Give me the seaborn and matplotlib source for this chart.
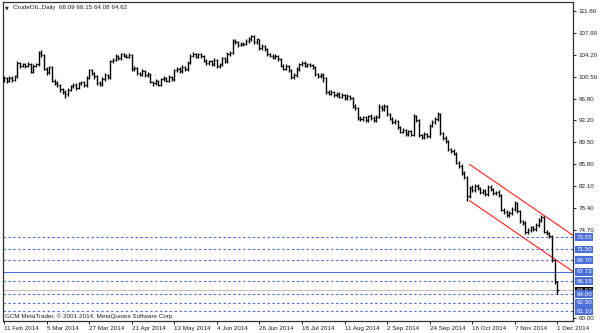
import numpy as np
import pandas as pd
import matplotlib
matplotlib.use("Agg")
import matplotlib.pyplot as plt
import matplotlib.transforms as mtransforms
import seaborn as sns

# ---------------- data ----------------
opens = [
    100.0, 100.3, 99.9, 100.4, 100.0, 100.6, 102.8, 102.4, 102.6, 102.3,
    102.7, 101.4, 102.4, 102.6, 104.6, 104.2, 101.9, 101.3, 102.1, 99.9,
    99.5, 99.1, 98.4, 98.0, 97.6, 98.3, 98.9, 99.2, 98.7, 99.4,
    99.6, 99.1, 100.4, 101.6, 101.2, 100.6, 99.5, 99.3, 100.2, 100.8,
    100.5, 103.1, 103.4, 104.0, 103.7, 104.3, 104.1, 103.9, 104.2, 101.8,
    102.0, 101.2, 100.9, 101.5, 100.8, 101.0, 99.7, 99.4, 99.8, 99.2,
    100.1, 100.3, 99.9, 100.5, 100.2, 101.6, 101.9, 101.5, 102.2, 101.8,
    102.9, 104.1, 104.4, 103.9, 104.3, 104.0, 103.2, 102.8, 103.1, 102.7,
    103.3, 102.3, 102.6, 103.6, 103.2, 104.4, 104.6, 106.6, 106.3, 105.9,
    106.1, 106.0, 106.5, 106.9, 107.3, 106.4, 106.8, 105.4, 105.7, 105.2,
    104.3, 104.1, 103.8, 104.0, 103.5, 102.4, 101.9, 102.3, 101.7, 100.5,
    100.8, 101.8, 102.6, 102.9, 102.4, 102.7, 102.5, 102.1, 101.0, 100.6,
    100.9, 100.3, 97.9, 97.7, 98.0, 97.4, 97.6, 97.2, 97.5, 96.9,
    97.3, 96.9, 95.6, 95.3, 93.6, 93.4, 93.7, 93.3, 93.9, 93.6,
    93.2, 93.8, 95.5, 95.1, 95.6, 94.2, 93.5, 92.9, 93.1, 92.0,
    91.3, 91.6, 90.9, 91.4, 90.8, 93.9, 93.2, 90.7, 90.4, 90.9,
    90.6, 92.3, 92.9, 93.4, 94.3, 91.0, 90.2, 89.7, 88.3, 88.0,
    87.6, 86.1, 85.5, 84.3, 83.6, 80.5, 81.9, 81.5, 82.2, 81.8,
    81.1, 81.4, 80.8, 82.0, 81.6, 80.9, 81.2, 80.6, 78.2, 77.8,
    77.2, 77.6, 78.3, 79.3, 77.9, 76.2, 75.9, 74.4, 74.8, 75.2,
    74.9, 75.6, 76.4, 76.9, 74.5, 74.2, 73.7, 69.7, 66.09,
]
highs = [
    100.6, 100.5, 100.7, 100.6, 100.9, 103.1, 103.0, 102.9, 102.8, 103.0,
    102.9, 102.6, 102.9, 104.9, 105.0, 104.4, 102.2, 102.4, 102.3, 100.1,
    99.8, 99.3, 98.7, 98.3, 98.6, 99.2, 99.5, 99.4, 99.7, 99.9,
    99.9, 100.7, 101.9, 101.8, 101.4, 100.8, 99.8, 100.5, 101.1, 101.0,
    103.4, 103.7, 104.3, 104.2, 104.6, 104.5, 104.4, 104.5, 104.3, 102.4,
    102.2, 101.4, 101.8, 101.6, 101.3, 101.2, 99.9, 100.1, 100.0, 100.4,
    100.6, 100.5, 100.8, 100.7, 101.9, 102.2, 102.1, 102.5, 102.4, 103.2,
    104.4, 104.7, 104.6, 104.6, 104.5, 104.2, 103.5, 103.4, 103.3, 103.6,
    103.5, 102.9, 103.9, 103.8, 104.7, 104.9, 106.9, 106.8, 106.5, 106.4,
    106.4, 106.8, 107.2, 107.6, 107.5, 107.0, 106.9, 106.0, 105.9, 105.4,
    104.5, 104.3, 104.3, 104.2, 103.7, 102.6, 102.6, 102.5, 101.9, 101.1,
    102.1, 102.9, 103.2, 103.1, 102.9, 102.9, 102.7, 102.3, 101.2, 101.2,
    101.1, 100.5, 98.3, 98.3, 98.2, 97.9, 97.9, 97.8, 97.7, 97.6,
    97.5, 97.1, 95.9, 95.5, 93.9, 94.0, 94.0, 94.1, 94.2, 93.9,
    94.1, 95.9, 95.8, 95.9, 95.8, 94.4, 93.7, 93.4, 93.3, 92.2,
    91.9, 91.8, 91.6, 91.6, 94.2, 94.1, 93.4, 90.9, 91.2, 91.1,
    92.6, 93.2, 93.7, 94.6, 94.5, 91.3, 90.5, 89.9, 88.6, 88.3,
    87.8, 86.4, 85.8, 84.6, 83.9, 82.2, 82.4, 82.5, 82.5, 82.0,
    81.7, 81.7, 82.3, 82.3, 81.9, 81.4, 81.5, 80.8, 78.5, 78.1,
    77.9, 78.6, 79.6, 79.5, 78.1, 76.5, 76.2, 75.1, 75.5, 75.5,
    75.9, 76.7, 77.2, 77.1, 74.8, 74.4, 73.9, 69.9, 66.15,
]
lows = [
    99.7, 99.5, 99.6, 99.7, 99.8, 100.4, 102.0, 102.1, 102.0, 102.1,
    101.1, 101.2, 102.1, 102.4, 103.9, 101.6, 100.9, 101.0, 99.6, 99.1,
    98.8, 98.0, 97.6, 97.0, 97.3, 98.1, 98.6, 98.3, 98.4, 99.1,
    98.8, 98.8, 100.1, 100.9, 100.2, 99.2, 98.9, 99.0, 99.9, 100.1,
    100.2, 102.8, 103.1, 103.3, 103.4, 103.8, 103.6, 103.6, 101.5, 101.5,
    100.9, 100.6, 100.6, 100.5, 100.5, 99.4, 99.0, 99.1, 98.9, 99.0,
    99.9, 99.6, 99.6, 99.9, 99.9, 101.3, 101.2, 101.2, 101.5, 101.5,
    102.6, 103.8, 103.6, 103.6, 103.7, 103.0, 102.5, 102.5, 102.4, 102.4,
    102.0, 102.0, 102.3, 102.9, 102.9, 104.1, 104.3, 106.0, 105.6, 105.7,
    105.7, 105.8, 106.2, 106.6, 106.1, 106.1, 105.1, 105.1, 104.9, 104.0,
    103.8, 103.5, 103.5, 103.2, 102.1, 101.6, 101.6, 101.4, 100.2, 100.2,
    100.5, 101.5, 102.3, 102.1, 102.1, 102.2, 101.8, 100.7, 100.3, 100.3,
    99.6, 97.6, 97.4, 97.4, 97.1, 97.1, 96.9, 96.9, 96.6, 96.6,
    96.6, 95.3, 95.0, 93.3, 93.1, 93.1, 93.0, 93.0, 93.3, 92.9,
    93.0, 93.6, 94.8, 94.8, 93.9, 93.2, 92.6, 92.6, 91.7, 91.0,
    91.0, 90.6, 90.6, 90.5, 90.5, 92.9, 90.4, 90.1, 90.1, 90.3,
    90.3, 92.0, 92.6, 93.1, 90.7, 89.9, 89.4, 88.0, 87.7, 87.3,
    85.8, 85.2, 84.0, 83.3, 79.7, 80.2, 81.2, 81.2, 81.5, 80.8,
    80.8, 80.5, 80.5, 81.3, 80.6, 80.6, 80.3, 77.9, 77.5, 76.9,
    76.9, 77.3, 78.0, 77.6, 75.9, 75.6, 74.1, 74.1, 74.5, 74.6,
    74.6, 75.3, 76.1, 74.2, 73.9, 73.4, 69.4, 65.7, 64.08,
]
closes = [
    100.3, 99.9, 100.4, 100.0, 100.6, 102.8, 102.4, 102.6, 102.3, 102.7,
    101.4, 102.4, 102.6, 104.6, 104.2, 101.9, 101.3, 102.1, 99.9, 99.5,
    99.1, 98.4, 98.0, 97.6, 98.3, 98.9, 99.2, 98.7, 99.4, 99.6,
    99.1, 100.4, 101.6, 101.2, 100.6, 99.5, 99.3, 100.2, 100.8, 100.5,
    103.1, 103.4, 104.0, 103.7, 104.3, 104.1, 103.9, 104.2, 101.8, 102.0,
    101.2, 100.9, 101.5, 100.8, 101.0, 99.7, 99.4, 99.8, 99.2, 100.1,
    100.3, 99.9, 100.5, 100.2, 101.6, 101.9, 101.5, 102.2, 101.8, 102.9,
    104.1, 104.4, 103.9, 104.3, 104.0, 103.2, 102.8, 103.1, 102.7, 103.3,
    102.3, 102.6, 103.6, 103.2, 104.4, 104.6, 106.6, 106.3, 105.9, 106.1,
    106.0, 106.5, 106.9, 107.3, 106.4, 106.8, 105.4, 105.7, 105.2, 104.3,
    104.1, 103.8, 104.0, 103.5, 102.4, 101.9, 102.3, 101.7, 100.5, 100.8,
    101.8, 102.6, 102.9, 102.4, 102.7, 102.5, 102.1, 101.0, 100.6, 100.9,
    100.3, 97.9, 97.7, 98.0, 97.4, 97.6, 97.2, 97.5, 96.9, 97.3,
    96.9, 95.6, 95.3, 93.6, 93.4, 93.7, 93.3, 93.9, 93.6, 93.2,
    93.8, 95.5, 95.1, 95.6, 94.2, 93.5, 92.9, 93.1, 92.0, 91.3,
    91.6, 90.9, 91.4, 90.8, 93.9, 93.2, 90.7, 90.4, 90.9, 90.6,
    92.3, 92.9, 93.4, 94.3, 91.0, 90.2, 89.7, 88.3, 88.0, 87.6,
    86.1, 85.5, 84.3, 83.6, 80.5, 81.9, 81.5, 82.2, 81.8, 81.1,
    81.4, 80.8, 82.0, 81.6, 80.9, 81.2, 80.6, 78.2, 77.8, 77.2,
    77.6, 78.3, 79.3, 77.9, 76.2, 75.9, 74.4, 74.8, 75.2, 74.9,
    75.6, 76.4, 76.9, 74.5, 74.2, 73.7, 69.7, 66.15, 64.62,
]
date_labels = ["11 Feb 2014", "5 Mar 2014", "27 Mar 2014", "21 Apr 2014", "13 May 2014",
               "4 Jun 2014", "26 Jun 2014", "18 Jul 2014", "11 Aug 2014", "2 Sep 2014",
               "24 Sep 2014", "16 Oct 2014", "7 Nov 2014", "1 Dec 2014"]
date_label_bars = [0, 16, 32, 48, 64, 80, 96, 112, 128, 144, 160, 176, 192, 208]
price_ticks = [111.60, 107.90, 104.20, 100.50, 96.80, 93.20, 89.50, 85.80,
               82.10, 78.40, 74.70, 60.00]
dashed_levels = [73.55, 71.50, 69.70, 66.15, 64.00, 62.50, 61.10]
solid_level = 67.73
channel_bars = [175, 205]
channel_upper = [85.8, 76.6]
channel_lower = [79.7, 70.5]

# ---------------- figure ----------------
sns.set_style("white")
plt.rcParams['font.family'] = ['Liberation Sans', 'DejaVu Sans']
FS = 4.5

W, H = 600, 333
fig = plt.figure(figsize=(W / 100, H / 100), dpi=100)
ax = fig.add_axes([3 / W, 1 - 321 / H, 570 / W, 319 / H])
ymin, ymax = 59.46, 113.1
ax.set_xlim(-0.4, 213.9)
ax.set_ylim(ymin, ymax)

n = len(closes)
df = pd.DataFrame({"bar": np.arange(n), "open": opens, "high": highs,
                   "low": lows, "close": closes})

level_color = "#4a6fdc"
# level lines
for lv in dashed_levels:
    ax.axhline(lv, color=level_color, lw=0.8, ls=(0, (2.2, 2.2)), zorder=1)
ax.axhline(solid_level, color=level_color, lw=0.8, zorder=1)
ax.axhline(closes[-1], color="#c0c0c0", lw=0.8, zorder=1)

# OHLC bars
ax.vlines(df["bar"], df["low"], df["high"], color="black", lw=1.0, zorder=3)
ax.hlines(df["open"], df["bar"] - 0.45, df["bar"], color="black", lw=0.8, zorder=3)
ax.hlines(df["close"], df["bar"], df["bar"] + 0.45, color="black", lw=0.8, zorder=3)

# channel (rays to the right edge)
x_end = 213.9
for ys in (channel_upper, channel_lower):
    slope = (ys[1] - ys[0]) / (channel_bars[1] - channel_bars[0])
    cdf = pd.DataFrame({"x": [channel_bars[0], x_end],
                        "y": [ys[0], ys[0] + slope * (x_end - channel_bars[0])]})
    sns.lineplot(data=cdf, x="x", y="y", ax=ax, color="#ff2020", lw=0.8, zorder=2)

ax.set_xlabel("")
ax.set_ylabel("")

# axes styling
for s in ax.spines.values():
    s.set_color("#303030")
    s.set_linewidth(0.9)
ax.yaxis.tick_right()
ax.set_yticks(price_ticks)
ax.set_yticklabels([f"{v:.2f}" for v in price_ticks])
ax.tick_params(axis="y", direction="out", length=2.5, width=0.7, pad=1.5,
               labelsize=FS, colors="#202020", right=True, left=False)
ax.set_xticks(date_label_bars)
ax.set_xticklabels(date_labels)
ax.tick_params(axis="x", direction="out", length=2.5, width=0.7, pad=0.8,
               labelsize=FS, colors="#202020", bottom=True)
for lbl in ax.get_xticklabels():
    lbl.set_horizontalalignment("left")

# level labels on the price scale
trans = mtransforms.blended_transform_factory(ax.transAxes, ax.transData)
ax.text(1.006, closes[-1], f"{closes[-1]:.2f}", transform=trans, fontsize=FS,
        color="white", va="center", ha="left", clip_on=False, zorder=5,
        bbox=dict(boxstyle="square,pad=0.2", fc="black", ec="none"))
for lv in [73.55, 71.50, 69.70, solid_level, 66.15, 64.00, 62.50, 61.10]:
    ax.text(1.006, lv, f"{lv:.2f}", transform=trans, fontsize=FS,
            color="white", va="center", ha="left", clip_on=False, zorder=6,
            bbox=dict(boxstyle="square,pad=0.2", fc=level_color, ec="none"))

# header and copyright
fig.text(5 / W, 1 - 8 / H, "\u25bc", fontsize=3.5, va="center", ha="left",
         color="#202020", family=["DejaVu Sans"])
fig.text(13 / W, 1 - 8 / H,
         f"CrudeOIL,Daily  {opens[-1]:.2f} {highs[-1]:.2f} {lows[-1]:.2f} {closes[-1]:.2f}",
         fontsize=FS, va="center", ha="left", color="#202020")
fig.text(5 / W, 1 - 316 / H, "GCM MetaTrader, \u00a9 2001-2014, MetaQuotes Software Corp.",
         fontsize=FS, va="center", ha="left", color="#202020")

fig.savefig("out.png", dpi=100, facecolor="white")
